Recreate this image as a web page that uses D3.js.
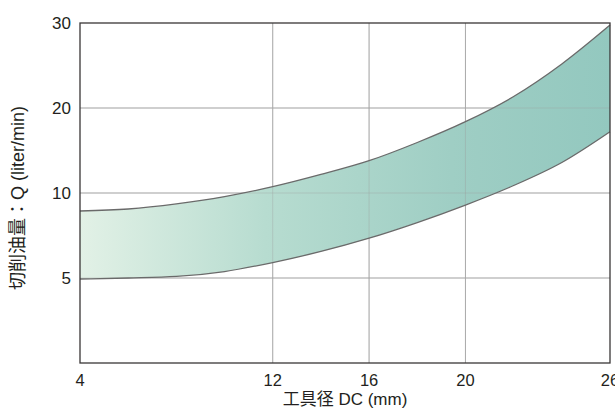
<!DOCTYPE html>
<html>
<head>
<meta charset="utf-8">
<script src="https://cdn.jsdelivr.net/npm/d3@7"></script>
<style>
  body { margin: 0; background: #fff; }
  text { font-family: "Liberation Sans", Arial, "Noto Sans CJK JP", sans-serif; fill: #231f20; }
</style>
</head>
<body>
<svg id="chart" width="615" height="410"></svg>
<script>
const dcValues = [4, 6, 8, 10, 12, 14, 16, 18, 20, 22, 24, 26];
const upperFlow = [8.94, 9.06, 9.36, 9.79, 10.74, 12.18, 13.8, 15.94, 18.39, 21.35, 25.18, 29.76];
const lowerFlow = [4.94, 5.0, 5.09, 5.38, 5.91, 6.56, 7.34, 8.26, 9.29, 10.88, 13.59, 17.21];
const xTicks = [4, 12, 16, 20, 26];
const yTicks = [5, 10, 20, 30];

const plotLeft = 80, plotRight = 610, plotTop = 23, plotBottom = 363;

const svg = d3.select("#chart");

const x = d3.scaleLinear().domain([4, 26]).range([plotLeft, plotRight]);
// y axis is stepped evenly between 0, 5, 10, 20, 30
const yDomain = [0, 5, 10, 20, 30];
const y = d3.scaleLinear()
  .domain(yDomain)
  .range(yDomain.map((d, i) => plotBottom - i * (plotBottom - plotTop) / 4));

const band = dcValues.map((d, i) => ({ dc: d, lo: lowerFlow[i], hi: upperFlow[i] }));

const defs = svg.append("defs");
const grad = defs.append("linearGradient")
  .attr("id", "bandFill")
  .attr("gradientUnits", "userSpaceOnUse")
  .attr("x1", plotLeft).attr("x2", plotRight).attr("y1", 0).attr("y2", 0);
[[0, "#e2f1e6"], [0.35, "#b7dcd0"], [0.7, "#9fcec4"], [1, "#93c8bf"]].forEach(([o, c]) => {
  grad.append("stop").attr("offset", o).attr("stop-color", c);
});

const gridY = yTicks.filter((d) => d < 30);
const gridX = xTicks.filter((d) => d > 4 && d < 26);

// grid
svg.append("g")
  .selectAll("line")
  .data(gridY)
  .join("line")
  .attr("x1", plotLeft).attr("x2", plotRight)
  .attr("y1", (d) => y(d)).attr("y2", (d) => y(d))
  .attr("stroke", "#b5b5b5").attr("stroke-width", 1);

svg.append("g")
  .selectAll("line")
  .data(gridX)
  .join("line")
  .attr("x1", (d) => x(d)).attr("x2", (d) => x(d))
  .attr("y1", plotTop).attr("y2", plotBottom)
  .attr("stroke", "#b5b5b5").attr("stroke-width", 1);

// band
const area = d3.area()
  .x((d) => x(d.dc))
  .y0((d) => y(d.lo))
  .y1((d) => y(d.hi))
  .curve(d3.curveMonotoneX);

svg.append("path")
  .datum(band)
  .attr("d", area)
  .attr("fill", "url(#bandFill)");

// grid shows through faintly inside band
svg.append("g")
  .selectAll("line")
  .data(gridX)
  .join("line")
  .attr("x1", (d) => x(d)).attr("x2", (d) => x(d))
  .attr("y1", plotTop).attr("y2", plotBottom)
  .attr("stroke", "#9a9a9a").attr("stroke-opacity", 0.35).attr("stroke-width", 1);
svg.append("g")
  .selectAll("line")
  .data(gridY)
  .join("line")
  .attr("x1", plotLeft).attr("x2", plotRight)
  .attr("y1", (d) => y(d)).attr("y2", (d) => y(d))
  .attr("stroke", "#9a9a9a").attr("stroke-opacity", 0.35).attr("stroke-width", 1);

const lineHi = d3.line().x((d) => x(d.dc)).y((d) => y(d.hi)).curve(d3.curveMonotoneX);
const lineLo = d3.line().x((d) => x(d.dc)).y((d) => y(d.lo)).curve(d3.curveMonotoneX);

[lineHi, lineLo].forEach((ln) => {
  svg.append("path")
    .datum(band)
    .attr("d", ln)
    .attr("fill", "none")
    .attr("stroke", "#6a6a6a")
    .attr("stroke-width", 1.3);
});

// frame
svg.append("rect")
  .attr("x", plotLeft).attr("y", plotTop)
  .attr("width", plotRight - plotLeft).attr("height", plotBottom - plotTop)
  .attr("fill", "none")
  .attr("stroke", "#3a3636")
  .attr("stroke-width", 1.3);

// tick labels
svg.append("g")
  .selectAll("text")
  .data(yTicks)
  .join("text")
  .attr("x", 71)
  .attr("y", (d) => y(d))
  .attr("dy", "0.36em")
  .attr("text-anchor", "end")
  .attr("font-size", 17)
  .text((d) => d);

svg.append("g")
  .selectAll("text")
  .data(xTicks)
  .join("text")
  .attr("x", (d) => x(d))
  .attr("y", 386)
  .attr("text-anchor", "middle")
  .attr("font-size", 16.5)
  .text((d) => d);

// axis titles
svg.append("text")
  .attr("x", 345)
  .attr("y", 405)
  .attr("text-anchor", "middle")
  .attr("font-size", 17)
  .text("工具径 DC (mm)");

svg.append("text")
  .attr("transform", "translate(24,198) rotate(-90)")
  .attr("text-anchor", "middle")
  .attr("font-size", 18)
  .text("切削油量：Q (liter/min)");
</script>
</body>
</html>
